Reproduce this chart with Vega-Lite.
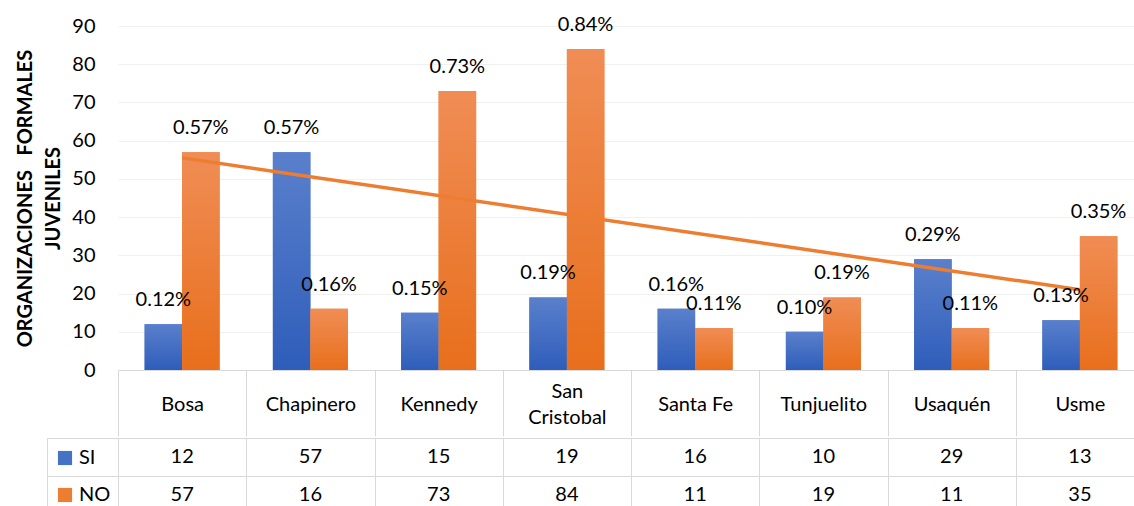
{
  "$schema": "https://vega.github.io/schema/vega-lite/v6.json",
  "padding": {"left": 15, "top": 14, "right": 0, "bottom": 0},
  "spacing": 0,
  "datasets": {
    "d": [
      {"distrito": "Bosa", "serie": "SI", "valor": 12},
      {"distrito": "Bosa", "serie": "NO", "valor": 57},
      {"distrito": "Chapinero", "serie": "SI", "valor": 57},
      {"distrito": "Chapinero", "serie": "NO", "valor": 16},
      {"distrito": "Kennedy", "serie": "SI", "valor": 15},
      {"distrito": "Kennedy", "serie": "NO", "valor": 73},
      {"distrito": "San Cristobal", "serie": "SI", "valor": 19},
      {"distrito": "San Cristobal", "serie": "NO", "valor": 84},
      {"distrito": "Santa Fe", "serie": "SI", "valor": 16},
      {"distrito": "Santa Fe", "serie": "NO", "valor": 11},
      {"distrito": "Tunjuelito", "serie": "SI", "valor": 10},
      {"distrito": "Tunjuelito", "serie": "NO", "valor": 19},
      {"distrito": "Usaquén", "serie": "SI", "valor": 29},
      {"distrito": "Usaquén", "serie": "NO", "valor": 11},
      {"distrito": "Usme", "serie": "SI", "valor": 13},
      {"distrito": "Usme", "serie": "NO", "valor": 35}
    ],
    "trend": [
      {"distrito": "Bosa", "tendencia": 55.5},
      {"distrito": "Usme", "tendencia": 21}
    ]
  },
  "vconcat": [
    {
      "width": 1026,
      "height": 344,
      "encoding": {
        "x": {
          "field": "distrito", "type": "nominal", "sort": null,
          "scale": {"domain": ["Bosa", "Chapinero", "Kennedy", "San Cristobal", "Santa Fe", "Tunjuelito", "Usaquén", "Usme"], "paddingInner": 0, "paddingOuter": 0},
          "axis": {
            "title": null, "grid": false, "domainColor": "#D9D9D9", "tickColor": "#D9D9D9",
            "tickSize": 66, "tickBand": "extent", "labelFontSize": 20, "labelColor": "#000000",
            "labelBaseline": "middle",
            "labelPadding": {"condition": {"test": "datum.value == 'San Cristobal'", "value": -45}, "value": -32},
            "labelAngle": 0, "labelLineHeight": 26,
            "minExtent": 66, "maxExtent": 66,
            "labelExpr": "datum.value == 'San Cristobal' ? ['San', 'Cristobal'] : datum.label"
          }
        }
      },
      "layer": [
        {
          "data": {"name": "d"},
          "mark": {"type": "bar"},
          "encoding": {
            "xOffset": {"field": "serie", "type": "nominal", "scale": {"domain": ["SI", "NO"], "paddingInner": 0, "paddingOuter": 0.71}},
            "y": {
              "field": "valor", "type": "quantitative",
              "scale": {"domain": [0, 90]},
              "axis": {
                "title": ["ORGANIZACIONES\u00a0\u00a0\u00a0FORMALES", "JUVENILES"], "titleFontSize": 20, "titleFontWeight": "bold",
                "titleColor": "#000000", "titleLineHeight": 28, "titlePadding": 8,
                "tickCount": 10, "values": [0, 10, 20, 30, 40, 50, 60, 70, 80, 90],
                "domain": false, "ticks": false, "labelFontSize": 20, "labelColor": "#000000", "labelPadding": 23,
                "grid": true, "gridColor": "#F0F0F0"
              }
            },
            "color": {
              "field": "serie", "type": "nominal",
              "scale": {"domain": ["SI", "NO"], "range": ["#4472C4", "#ED7D31"]},
              "legend": {
                "orient": "none", "legendX": -63, "legendY": 422, "title": null, "direction": "vertical",
                "symbolType": "square", "symbolSize": 200, "symbolStrokeWidth": 0,
                "labelFontSize": 20, "labelColor": "#000000", "labelOffset": 4, "rowPadding": 17, "padding": 0
              }
            }
          }
        },
        {
          "data": {"name": "d"},
          "transform": [{"filter": "datum.serie === 'SI'"}],
          "mark": {"type": "bar", "fill": {"gradient": "linear", "x1": 0, "y1": 0, "x2": 0, "y2": 1, "stops": [{"offset": 0, "color": "#5A80CC"}, {"offset": 1, "color": "#2E5DBA"}]}},
          "encoding": {
            "xOffset": {"field": "serie", "type": "nominal"},
            "y": {"field": "valor", "type": "quantitative"}
          }
        },
        {
          "data": {"name": "d"},
          "transform": [{"filter": "datum.serie === 'NO'"}],
          "mark": {"type": "bar", "fill": {"gradient": "linear", "x1": 0, "y1": 0, "x2": 0, "y2": 1, "stops": [{"offset": 0, "color": "#F08D55"}, {"offset": 1, "color": "#E86F1C"}]}},
          "encoding": {
            "xOffset": {"field": "serie", "type": "nominal"},
            "y": {"field": "valor", "type": "quantitative"}
          }
        },
        {
          "data": {"name": "trend"},
          "mark": {"type": "line", "color": "#ED7D31", "strokeWidth": 3.5},
          "encoding": {
            "y": {"field": "tendencia", "type": "quantitative"}
          }
        },
        {
          "data": {"name": "d"},
          "transform": [{"calculate": "format(datum.valor / 10000, '.2%')", "as": "lab"}],
          "mark": {"type": "text", "fontSize": 20, "color": "#000000", "baseline": "middle", "dy": -24},
          "encoding": {
            "xOffset": {"field": "serie", "type": "nominal"},
            "y": {"field": "valor", "type": "quantitative"},
            "text": {"field": "lab"}
          }
        }
      ]
    },
    {
      "width": 1026,
      "height": 76,
      "data": {"name": "d"},
      "mark": {"type": "text", "fontSize": 20, "color": "#000000", "baseline": "middle"},
      "encoding": {
        "x": {
          "field": "distrito", "type": "nominal", "sort": null,
          "scale": {"domain": ["Bosa", "Chapinero", "Kennedy", "San Cristobal", "Santa Fe", "Tunjuelito", "Usaquén", "Usme"], "paddingInner": 0, "paddingOuter": 0},
          "axis": {"title": null, "labels": false, "ticks": false, "domain": false, "grid": true, "gridColor": "#D9D9D9", "tickBand": "extent"}
        },
        "y": {
          "field": "serie", "type": "nominal",
          "scale": {"domain": ["SI", "NO"], "paddingInner": 0, "paddingOuter": 0},
          "axis": {"title": null, "labels": false, "grid": true, "gridColor": "#D9D9D9", "tickBand": "extent",
                   "offset": 71, "ticks": true, "tickSize": -71, "tickColor": "#D9D9D9", "domain": true, "domainColor": "#D9D9D9"}
        },
        "text": {"field": "valor", "type": "quantitative"}
      }
    }
  ],
  "config": {
    "font": "Lato",
    "view": {"stroke": null},
    "axis": {"labelFont": "Lato", "titleFont": "Lato"},
    "legend": {"labelFont": "Lato"}
  }
}
